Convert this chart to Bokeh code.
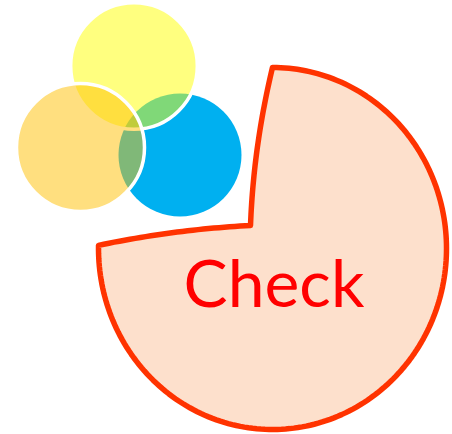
import numpy as np
from bokeh.plotting import figure
from bokeh.models import Range1d
from bokeh.core.properties import value
from bokeh.embed import file_html
from bokeh.resources import INLINE

# ---- data ----
venn_sets = ["blue", "yellow", "orange"]          # drawing order of the three sets
venn_alpha = [1.0, 0.5, 0.5]
pie_values = [75, 25]                             # shown share vs. removed slice (percent)
label = ["Check"]

# ---- geometry (pixel space of the page) ----
W, H = 452, 434
p = figure(width=W, height=H, output_backend="svg", toolbar_location=None,
           x_range=Range1d(0, W), y_range=Range1d(H, 0), min_border=0)
p.axis.visible = False
p.grid.visible = False
p.outline_line_color = None
p.background_fill_color = "white"
p.border_fill_color = "white"

# Venn circles
centers = {"blue": (179.5, 154.5), "yellow": (133.5, 65.5), "orange": (80.0, 147.0)}
radii = {"blue": 61.5, "yellow": 63.3, "orange": 64.0}
colors = {"blue": "#00B0F0", "yellow": "#FFFF00", "orange": "#FFC000"}
for name, a in zip(venn_sets, venn_alpha):
    cx, cy = centers[name]
    if name == "blue":
        p.circle([cx], [cy], radius=radii[name], fill_color=colors[name], fill_alpha=a,
                 line_color=None)
    else:
        p.circle([cx], [cy], radius=radii[name], fill_color=colors[name], fill_alpha=a,
                 line_color="white", line_width=3.5)

# Pie with a removed slice
pcx, pcy, rx, ry = 272.0, 248.0, 174.0, 181.0
share = pie_values[0] / sum(pie_values)
theta = np.deg2rad(np.linspace(90, 90 - 360 * share - 1, 200))
ax = pcx + rx * np.cos(theta)
ay = pcy - ry * np.sin(theta)
corner = (250.0, 225.0)

def qbez(p0, c, p1, n=30):
    t = np.linspace(0, 1, n)
    x = (1 - t) ** 2 * p0[0] + 2 * (1 - t) * t * c[0] + t ** 2 * p1[0]
    y = (1 - t) ** 2 * p0[1] + 2 * (1 - t) * t * c[1] + t ** 2 * p1[1]
    return x, y

L = (ax[-1], ay[-1])
T = (ax[0], ay[0])
e1x, e1y = qbez(L, ((L[0] + corner[0]) / 2, (L[1] + corner[1]) / 2 - 6), corner)
e2x, e2y = qbez(corner, ((corner[0] + T[0]) / 2 - 8, (corner[1] + T[1]) / 2), T)
xs = np.concatenate([ax, e1x[1:], e2x[1:-1]])
ys = np.concatenate([ay, e1y[1:], e2y[1:-1]])
p.patch(xs, ys, fill_color="#FDE0CC", line_color="#FF3300", line_width=5.5,
        line_join="round")

p.text([273.5], [281], text=label, text_color="#FF0000", text_font=value("Lato"),
       text_font_size="66px", text_align="center", text_baseline="middle")

open("out.html", "w").write(file_html(p, INLINE))
